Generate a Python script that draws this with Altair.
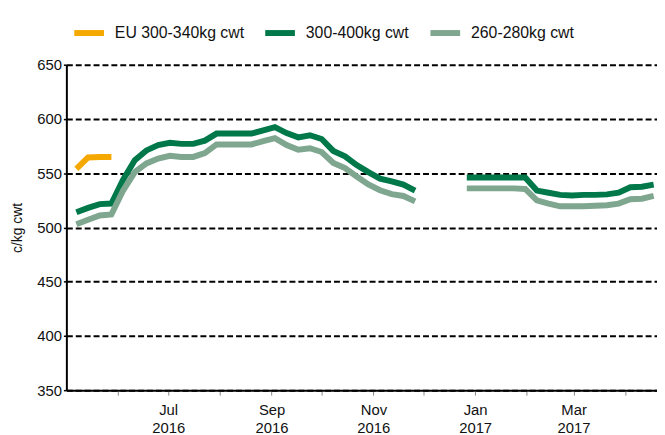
import altair as alt
import pandas as pd

series_names = ["EU 300-340kg cwt", "300-400kg cwt", "260-280kg cwt"]
series_colors = ["#F5A800", "#00784A", "#7FA68F"]

dates_seg1 = [
    "2016-05-07", "2016-05-14", "2016-05-21", "2016-05-28", "2016-06-04",
    "2016-06-11", "2016-06-18", "2016-06-25", "2016-07-02", "2016-07-09",
    "2016-07-16", "2016-07-23", "2016-07-30", "2016-08-06", "2016-08-13",
    "2016-08-20", "2016-08-27", "2016-09-03", "2016-09-10", "2016-09-17",
    "2016-09-24", "2016-10-01", "2016-10-08", "2016-10-15", "2016-10-22",
    "2016-10-29", "2016-11-05", "2016-11-12", "2016-11-19", "2016-11-26",
]
dates_seg2 = [
    "2016-12-27", "2017-01-03", "2017-01-10", "2017-01-17", "2017-01-24",
    "2017-01-31", "2017-02-07", "2017-02-14", "2017-02-21", "2017-02-28",
    "2017-03-07", "2017-03-14", "2017-03-21", "2017-03-28", "2017-04-04",
    "2017-04-11", "2017-04-18",
]

eu_dates = ["2016-05-07", "2016-05-14", "2016-05-21", "2016-05-28"]
eu_values = [554, 564.5, 565, 565]

green_seg1 = [514, 518, 521.5, 522, 544, 562, 571, 576, 578, 577,
              577, 580, 586.5, 586.5, 586.5, 586.5, 589.5, 592.5, 587, 583,
              585, 581.5, 570.5, 565.5, 557.5, 551, 545, 542.5, 539.5, 534]
green_seg2 = [546, 546, 546, 546, 546, 546, 534, 532, 530, 529.5,
              530, 530, 530.5, 532, 537, 537.5, 539.5]

light_seg1 = [503, 507, 511, 512, 534, 551, 559, 563.5, 566, 565,
              565, 568.5, 576.5, 576.5, 576.5, 576.5, 579.5, 582.3, 576, 571.6,
              573, 569.5, 559.5, 554.7, 547, 539.7, 534.3, 530.7, 529, 524]
light_seg2 = [536, 536, 536, 536, 536, 535.5, 525, 522, 519.5, 519.5,
              519.5, 520, 520.5, 522, 526, 526.5, 529]

y_ticks = [350, 400, 450, 500, 550, 600, 650]
x_tick_months = [(2016, 6), (2016, 7), (2016, 8), (2016, 9), (2016, 10), (2016, 11),
                 (2016, 12), (2017, 1), (2017, 2), (2017, 3), (2017, 4)]

rows = []
for d, v in zip(eu_dates, eu_values):
    rows.append({"series": series_names[0], "segment": "eu1", "date": d, "value": v})
for d, v in zip(dates_seg1, green_seg1):
    rows.append({"series": series_names[1], "segment": "g1", "date": d, "value": v})
for d, v in zip(dates_seg2, green_seg2):
    rows.append({"series": series_names[1], "segment": "g2", "date": d, "value": v})
for d, v in zip(dates_seg1, light_seg1):
    rows.append({"series": series_names[2], "segment": "l1", "date": d, "value": v})
for d, v in zip(dates_seg2, light_seg2):
    rows.append({"series": series_names[2], "segment": "l2", "date": d, "value": v})
df = pd.DataFrame(rows)

x_values = [alt.DateTime(year=y, month=m, date=1, utc=True) for y, m in x_tick_months]

chart = alt.Chart(df).mark_line(strokeWidth=6, strokeCap="butt", clip=True).encode(
    x=alt.X(
        "date:T",
        title=None,
        scale=alt.Scale(
            type="utc",
            domain=[alt.DateTime(year=2016, month=5, date=1, utc=True),
                    alt.DateTime(year=2017, month=4, date=20, utc=True)],
        ),
        axis=alt.Axis(
            values=x_values,
            labelExpr="(utcmonth(datum.value) % 2 == 0) ? [utcFormat(datum.value, '%b'), utcFormat(datum.value, '%Y')] : ''",
            grid=False,
            domainColor="black",
            domainWidth=2,
            tickColor="#888888",
            tickSize=5,
            tickWidth=1,
            labelFontSize=15,
            labelColor="#111111",
            labelPadding=8,
            labelLineHeight=18,
            labelFlush=False,
            labelOverlap=False,
        ),
    ),
    y=alt.Y(
        "value:Q",
        title="c/kg cwt",
        scale=alt.Scale(domain=[350, 650], nice=False, zero=False),
        axis=alt.Axis(
            values=y_ticks,
            grid=True,
            gridColor="black",
            gridDash=[6, 3],
            gridWidth=2,
            domainColor="black",
            domainWidth=2,
            tickColor="black",
            tickSize=3,
            tickWidth=1.5,
            labelFontSize=15,
            labelColor="#111111",
            labelPadding=2,
            titleFontSize=14,
            titleFontWeight="normal",
            titleColor="#111111",
            titlePadding=12,
        ),
    ),
    color=alt.Color(
        "series:N",
        sort=series_names,
        scale=alt.Scale(domain=series_names, range=series_colors),
        legend=alt.Legend(
            orient="none",
            legendX=5,
            legendY=-50,
            direction="horizontal",
            title=None,
            symbolType="stroke",
            symbolSize=900,
            symbolStrokeWidth=6,
            labelFontSize=16,
            labelOffset=8,
            labelColor="#111111",
            labelLimit=300,
            columnPadding=9,
        ),
    ),
    detail="segment:N",
).properties(
    width=597,
    height=329,
    autosize=alt.AutoSizeParams(type="none"),
    padding={"left": 59, "top": 55, "right": 0, "bottom": 43},
).configure(
    font="Liberation Sans",
).configure_view(
    stroke=None,
)

chart.save("out.html", embed_options={"renderer": "svg", "actions": False})
